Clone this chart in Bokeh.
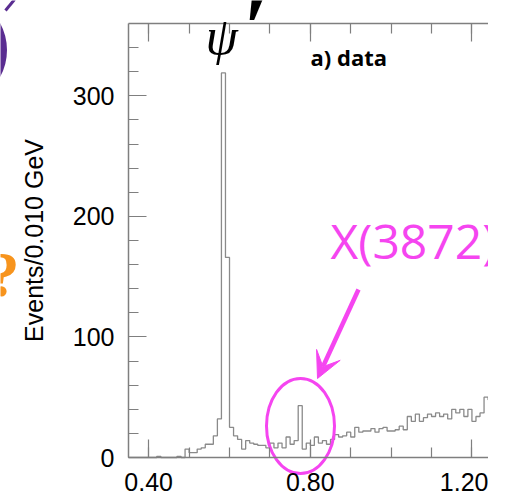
from bokeh.plotting import figure
from bokeh.models import (FixedTicker, LinearAxis, Range1d, Label, Arrow, VeeHead,
                          ColumnDataSource, PrintfTickFormatter)
from bokeh.embed import file_html
from bokeh.resources import INLINE
import numpy as np

# ---- data (events per 0.010 GeV bin, bins starting at 0.35) ----
bin_start = 0.35
bin_width = 0.01
counts = [
    0, 0, 0, 0, 0, 0, 0, 1, 0, 0,        # 0.35 - 0.44
    0, 0, 1, 0, 7, 4, 4, 7, 8, 11,       # 0.45 - 0.54
    11, 18, 32, 319, 166, 25, 18, 15, 7, 14,   # 0.55 - 0.64
    12, 11, 10, 10, 8, 12, 8, 12, 8, 17,  # 0.65 - 0.74
    11, 14, 43, 7, 12, 10, 17, 12, 14, 11,  # 0.75 - 0.84
    15, 19, 17, 18, 21, 17, 25, 21, 22, 22,  # 0.85 - 0.94
    24, 21, 24, 25, 22, 22, 23, 26, 23, 34,  # 0.95 - 1.04
    30, 36, 30, 33, 36, 34, 37, 34, 36, 32,  # 1.05 - 1.14
    40, 37, 40, 34, 40, 30, 34, 37, 50, 48,  # 1.15 - 1.24
]
x_major = [0.40, 0.80, 1.20]
x_minor = [0.40, 0.50, 0.60, 0.70, 0.80, 0.90, 1.00, 1.10, 1.20]
y_major = [0, 100, 200, 300]
y_minor = [0, 20, 40, 60, 80, 100, 120, 140, 160, 180, 200, 220, 240, 260, 280, 300, 320, 340]

x_lo, x_hi = 0.35, 1.241
y_lo, y_hi = 0, 360

GRAY = "#7f7f7f"
MAGENTA = "#f545f0"
PURPLE = "#5a2d91"
ORANGE = "#f7941d"

# page-pixel layout: axes box from x=128 (0.35) to canvas right, y=23 (360) to y=457 (0)
CANVAS_W, CANVAS_H = 488, 497
FRAME_L, FRAME_T, ZERO_Y = 128.0, 23.0, 457.0
PX_PER_X = (CANVAS_W - FRAME_L) / (x_hi - x_lo)
PX_PER_Y = (ZERO_Y - FRAME_T) / (y_hi - y_lo)
view_x0 = x_lo - FRAME_L / PX_PER_X
view_y0 = y_lo - (CANVAS_H - ZERO_Y) / PX_PER_Y
view_y1 = y_hi + FRAME_T / PX_PER_Y

edges = bin_start + bin_width * np.arange(len(counts) + 1)
step_src = ColumnDataSource(dict(x=edges, y=counts + [counts[-1]]))

p = figure(width=CANVAS_W, height=CANVAS_H, output_backend="svg", toolbar_location=None,
           x_range=Range1d(view_x0, x_hi), y_range=Range1d(view_y0, view_y1),
           min_border_left=0, min_border_right=0, min_border_top=0,
           min_border_bottom=0)
p.grid.visible = False
p.outline_line_color = None
p.background_fill_color = "white"
p.border_fill_color = "white"

def style_axis(ax, major, minor):
    ax.ticker = FixedTicker(ticks=major, minor_ticks=minor)
    ax.axis_line_color = GRAY
    ax.axis_line_width = 1.5
    ax.major_tick_line_color = GRAY
    ax.minor_tick_line_color = GRAY
    ax.major_tick_line_width = 1.2
    ax.minor_tick_line_width = 1.2
    ax.major_tick_in = 18
    ax.major_tick_out = 0
    ax.minor_tick_in = 10
    ax.minor_tick_out = 0
    ax.major_label_text_font = "Liberation Sans"
    ax.major_label_text_font_size = "25px"
    ax.major_label_text_color = "black"

xa = p.xaxis[0]
style_axis(xa, x_major, x_minor)
xa.formatter = PrintfTickFormatter(format="%.2f")
xa.major_label_standoff = 15
xa.fixed_location = y_lo
xa.bounds = (x_lo, x_hi)

ya = p.yaxis[0]
style_axis(ya, y_major, y_minor)
ya.fixed_location = x_lo
ya.bounds = (y_lo, y_hi)
ya.major_label_standoff = 14
ya.axis_label = "Events/0.010 GeV"
ya.axis_label_text_font = "Liberation Sans"
ya.axis_label_text_font_size = "25px"
ya.axis_label_text_font_style = "normal"
ya.axis_label_text_color = "black"
ya.axis_label_standoff = 22

top = LinearAxis()
style_axis(top, x_major, x_minor)
top.fixed_location = y_hi
top.bounds = (x_lo, x_hi)
top.major_label_overrides = {t: "" for t in x_major}
top.major_label_text_font_size = "1px"
top.major_label_standoff = 0
p.add_layout(top, "above")

# histogram
p.step(x="x", y="y", source=step_src, mode="after", line_color="#8a8a8a", line_width=1.3)

# annotations (positions given in page pixels, converted to data units)
def px2x(X):
    return x_lo + (X - FRAME_L) / PX_PER_X

def px2y(Y):
    return (ZERO_Y - Y) / PX_PER_Y

p.ellipse(x=[px2x(300)], y=[px2y(425.5)], width=68 / PX_PER_X, height=95 / PX_PER_Y,
          fill_color=None, line_color=MAGENTA, line_width=3)

p.add_layout(Arrow(x_start=px2x(358), y_start=px2y(289), x_end=px2x(317), y_end=px2y(378),
                   line_color=MAGENTA, line_width=4.5,
                   end=VeeHead(size=26, fill_color=MAGENTA, line_color=MAGENTA, line_width=1)))

p.add_layout(Label(x=px2x(205), y=px2y(36), text="ψ", text_font="Liberation Serif",
                   text_font_style="italic", text_font_size="52px", text_color="black",
                   text_baseline="alphabetic"))
p.add_layout(Label(x=px2x(242), y=px2y(27), text="′", text_font="Liberation Serif",
                   text_font_style="bold italic", text_font_size="88px", text_color="black",
                   text_baseline="alphabetic"))
p.add_layout(Label(x=px2x(310), y=px2y(56), text="a) data", text_font="Open Sans",
                   text_font_style="bold", text_font_size="22px", text_color="black",
                   text_baseline="alphabetic"))
p.add_layout(Label(x=px2x(330), y=px2y(240), text="X(3872)", text_font="Open Sans",
                   text_font_size="48px", text_color=MAGENTA, text_baseline="alphabetic"))

# slide fragments at the left edge
p.arc(x=[px2x(-50)], y=[px2y(49.5)], radius=53 / PX_PER_X, start_angle=-0.5, end_angle=0.5,
      line_color=PURPLE, line_width=7)
p.segment(x0=[px2x(5)], y0=[px2y(10)], x1=[px2x(14)], y1=[px2y(-1)],
          line_color=PURPLE, line_width=3)
p.add_layout(Label(x=px2x(3), y=px2y(238), text="?", text_font="Liberation Sans Narrow",
                   text_font_style="bold", text_font_size="64px", text_color=ORANGE,
                   text_align="center", text_baseline="top"))

open("out.html", "w").write(file_html(p, INLINE))
